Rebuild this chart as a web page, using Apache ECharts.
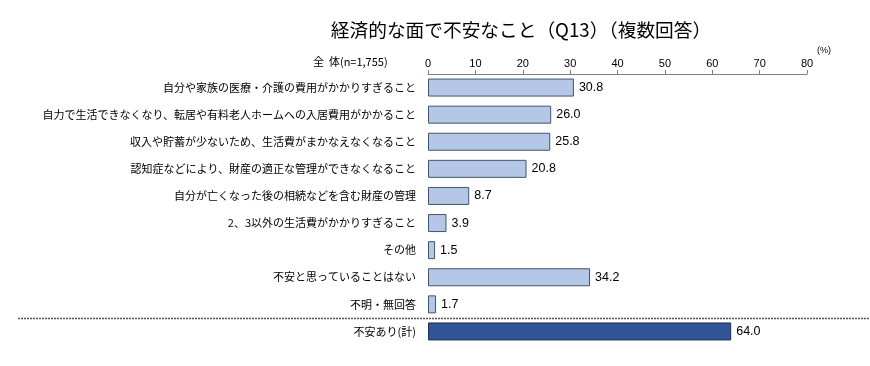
<!DOCTYPE html>
<html><head><meta charset="utf-8">
<script src="https://cdn.jsdelivr.net/npm/echarts@6/dist/echarts.min.js"></script>
<style>html,body{margin:0;padding:0;background:#fff}#c{width:870px;height:366px}</style>
</head><body><div id="c"></div>
<script>
const categories = [
  '自分や家族の医療・介護の費用がかかりすぎること',
  '自力で生活できなくなり、転居や有料老人ホームへの入居費用がかかること',
  '収入や貯蓄が少ないため、生活費がまかなえなくなること',
  '認知症などにより、財産の適正な管理ができなくなること',
  '自分が亡くなった後の相続などを含む財産の管理',
  '2、3以外の生活費がかかりすぎること',
  'その他',
  '不安と思っていることはない',
  '不明・無回答',
  '不安あり(計)'
];
const values = [30.8, 26.0, 25.8, 20.8, 8.7, 3.9, 1.5, 34.2, 1.7, 64.0];
const highlightIndex = 9;
const xTicks = [0, 10, 20, 30, 40, 50, 60, 70, 80];

const jp = '"Noto Sans CJK JP", sans-serif';
const chart = echarts.init(document.getElementById('c'), null, {renderer: 'canvas'});
chart.setOption({
  animation: false,
  title: {
    text: '経済的な面で不安なこと（Q13）（複数回答）',
    left: 516, top: 16, textAlign: 'center',
    textStyle: {fontFamily: jp, fontSize: 18.7, fontWeight: 'normal', color: '#000'}
  },
  grid: {left: 428, width: 379, top: 74, height: 271},
  xAxis: {
    type: 'value', position: 'top', min: xTicks[0], max: xTicks[xTicks.length-1], interval: 10,
    axisLine: {show: true, lineStyle: {color: '#7f7f7f', width: 1}},
    axisTick: {show: true, length: 4, lineStyle: {color: '#7f7f7f'}},
    axisLabel: {fontFamily: '"Liberation Sans", Arial, sans-serif', fontSize: 11, color: '#000', margin: 5},
    splitLine: {show: false}
  },
  yAxis: {
    type: 'category', data: categories, inverse: true,
    axisLine: {show: false}, axisTick: {show: false},
    axisLabel: {fontFamily: jp, fontSize: 11, color: '#000', margin: 12}
  },
  series: [{
    type: 'bar', barWidth: 18,
    data: values.map((v, i) => ({
      value: v,
      itemStyle: i === highlightIndex
        ? {color: '#2f5597', borderColor: '#1f3050', borderWidth: 1}
        : {color: '#b4c7e7', borderColor: '#44546a', borderWidth: 1}
    })),
    label: {
      show: true, position: 'right', distance: 5,
      formatter: p => p.value.toFixed(1),
      fontFamily: '"Liberation Sans", Arial, sans-serif', fontSize: 12.5, color: '#000'
    }
  }],
  graphic: [
    {type: 'text', left: 313, top: 56, style: {text: '全  体(n=1,755)', font: '11px "Noto Sans CJK JP"', fill: '#000'}},
    {type: 'text', left: 817, top: 46, style: {text: '(%)', font: '9px "Liberation Sans"', fill: '#000'}},
    {type: 'line', shape: {x1: 18, y1: 318.5, x2: 870, y2: 318.5}, style: {stroke: '#555', lineWidth: 1.5, lineDash: [2, 1]}}
  ]
});
</script></body></html>
